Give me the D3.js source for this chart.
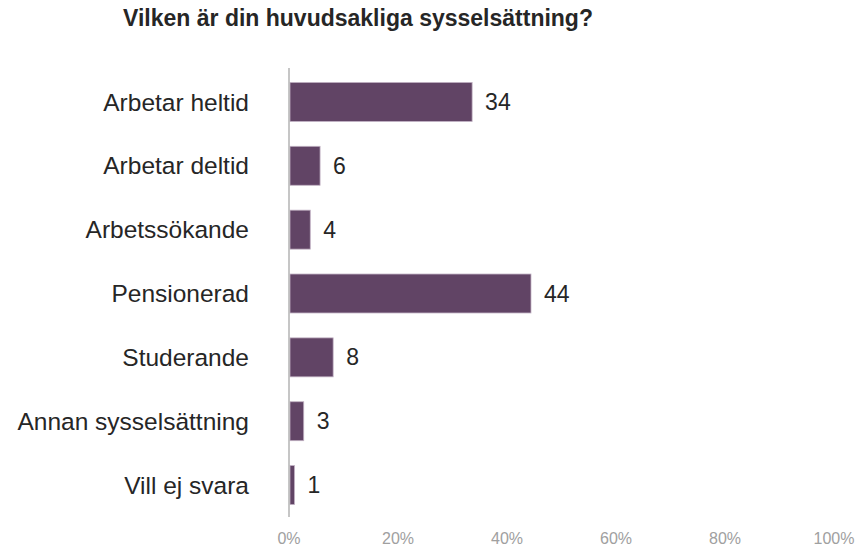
<!DOCTYPE html>
<html><head><meta charset="utf-8">
<script src="https://cdn.jsdelivr.net/npm/d3@7"></script>
<style>body{margin:0;background:#fff;} svg{display:block;}</style>
</head><body>
<svg id="c" width="857" height="548"></svg>
<script>
const title = "Vilken är din huvudsakliga sysselsättning?";
const categories = ["Arbetar heltid","Arbetar deltid","Arbetssökande","Pensionerad","Studerande","Annan sysselsättning","Vill ej svara"];
const values = [33.6, 5.7, 3.9, 44.4, 8.1, 2.7, 1.0];
const ticks = [0, 20, 40, 60, 80, 100];

const svg = d3.select("#c");
const font = "Liberation Sans, Arial, sans-serif";
const x = d3.scaleLinear().domain([0,100]).range([289, 834]);
const y = d3.scaleBand().domain(categories).range([70, 517]).paddingInner(0.39).paddingOuter(0.195);
const fmt = d3.format(".0f");

svg.append("text").attr("x", 358).attr("y", 26).attr("text-anchor","middle")
  .attr("font-family", font).attr("font-weight","bold").attr("font-size",23).attr("fill","#262626").text(title);

const data = categories.map((c,i)=>({c, v: values[i]}));

svg.selectAll("rect.bar").data(data).enter().append("rect").attr("class","bar")
  .attr("x", x(0)+1).attr("y", d=>y(d.c)).attr("width", d=>x(d.v)-x(0)-1).attr("height", y.bandwidth())
  .attr("fill","#614465").attr("stroke","#c0b0c2").attr("stroke-width",0.8);

svg.append("line").attr("x1", x(0)).attr("x2", x(0)).attr("y1", 68).attr("y2", 517)
  .attr("stroke","#b3b3b3").attr("stroke-width",1.5);

svg.selectAll("text.cat").data(data).enter().append("text").attr("class","cat")
  .attr("x", 249).attr("y", d=>y(d.c)+y.bandwidth()/2).attr("dy","0.35em").attr("text-anchor","end")
  .attr("font-family", font).attr("font-size",24.5).attr("fill","#262626").text(d=>d.c);

svg.selectAll("text.val").data(data).enter().append("text").attr("class","val")
  .attr("x", d=>x(d.v)+13).attr("y", d=>y(d.c)+y.bandwidth()/2).attr("dy","0.35em")
  .attr("font-family", font).attr("font-size",23).attr("fill","#262626").text(d=>fmt(d.v));

svg.selectAll("text.tick").data(ticks).enter().append("text").attr("class","tick")
  .attr("x", d=>x(d)).attr("y", 538).attr("dy","0.35em").attr("text-anchor","middle")
  .attr("font-family", font).attr("font-size",16).attr("fill","#a0a0a0").text(d=>d+"%");
</script>
</body></html>
